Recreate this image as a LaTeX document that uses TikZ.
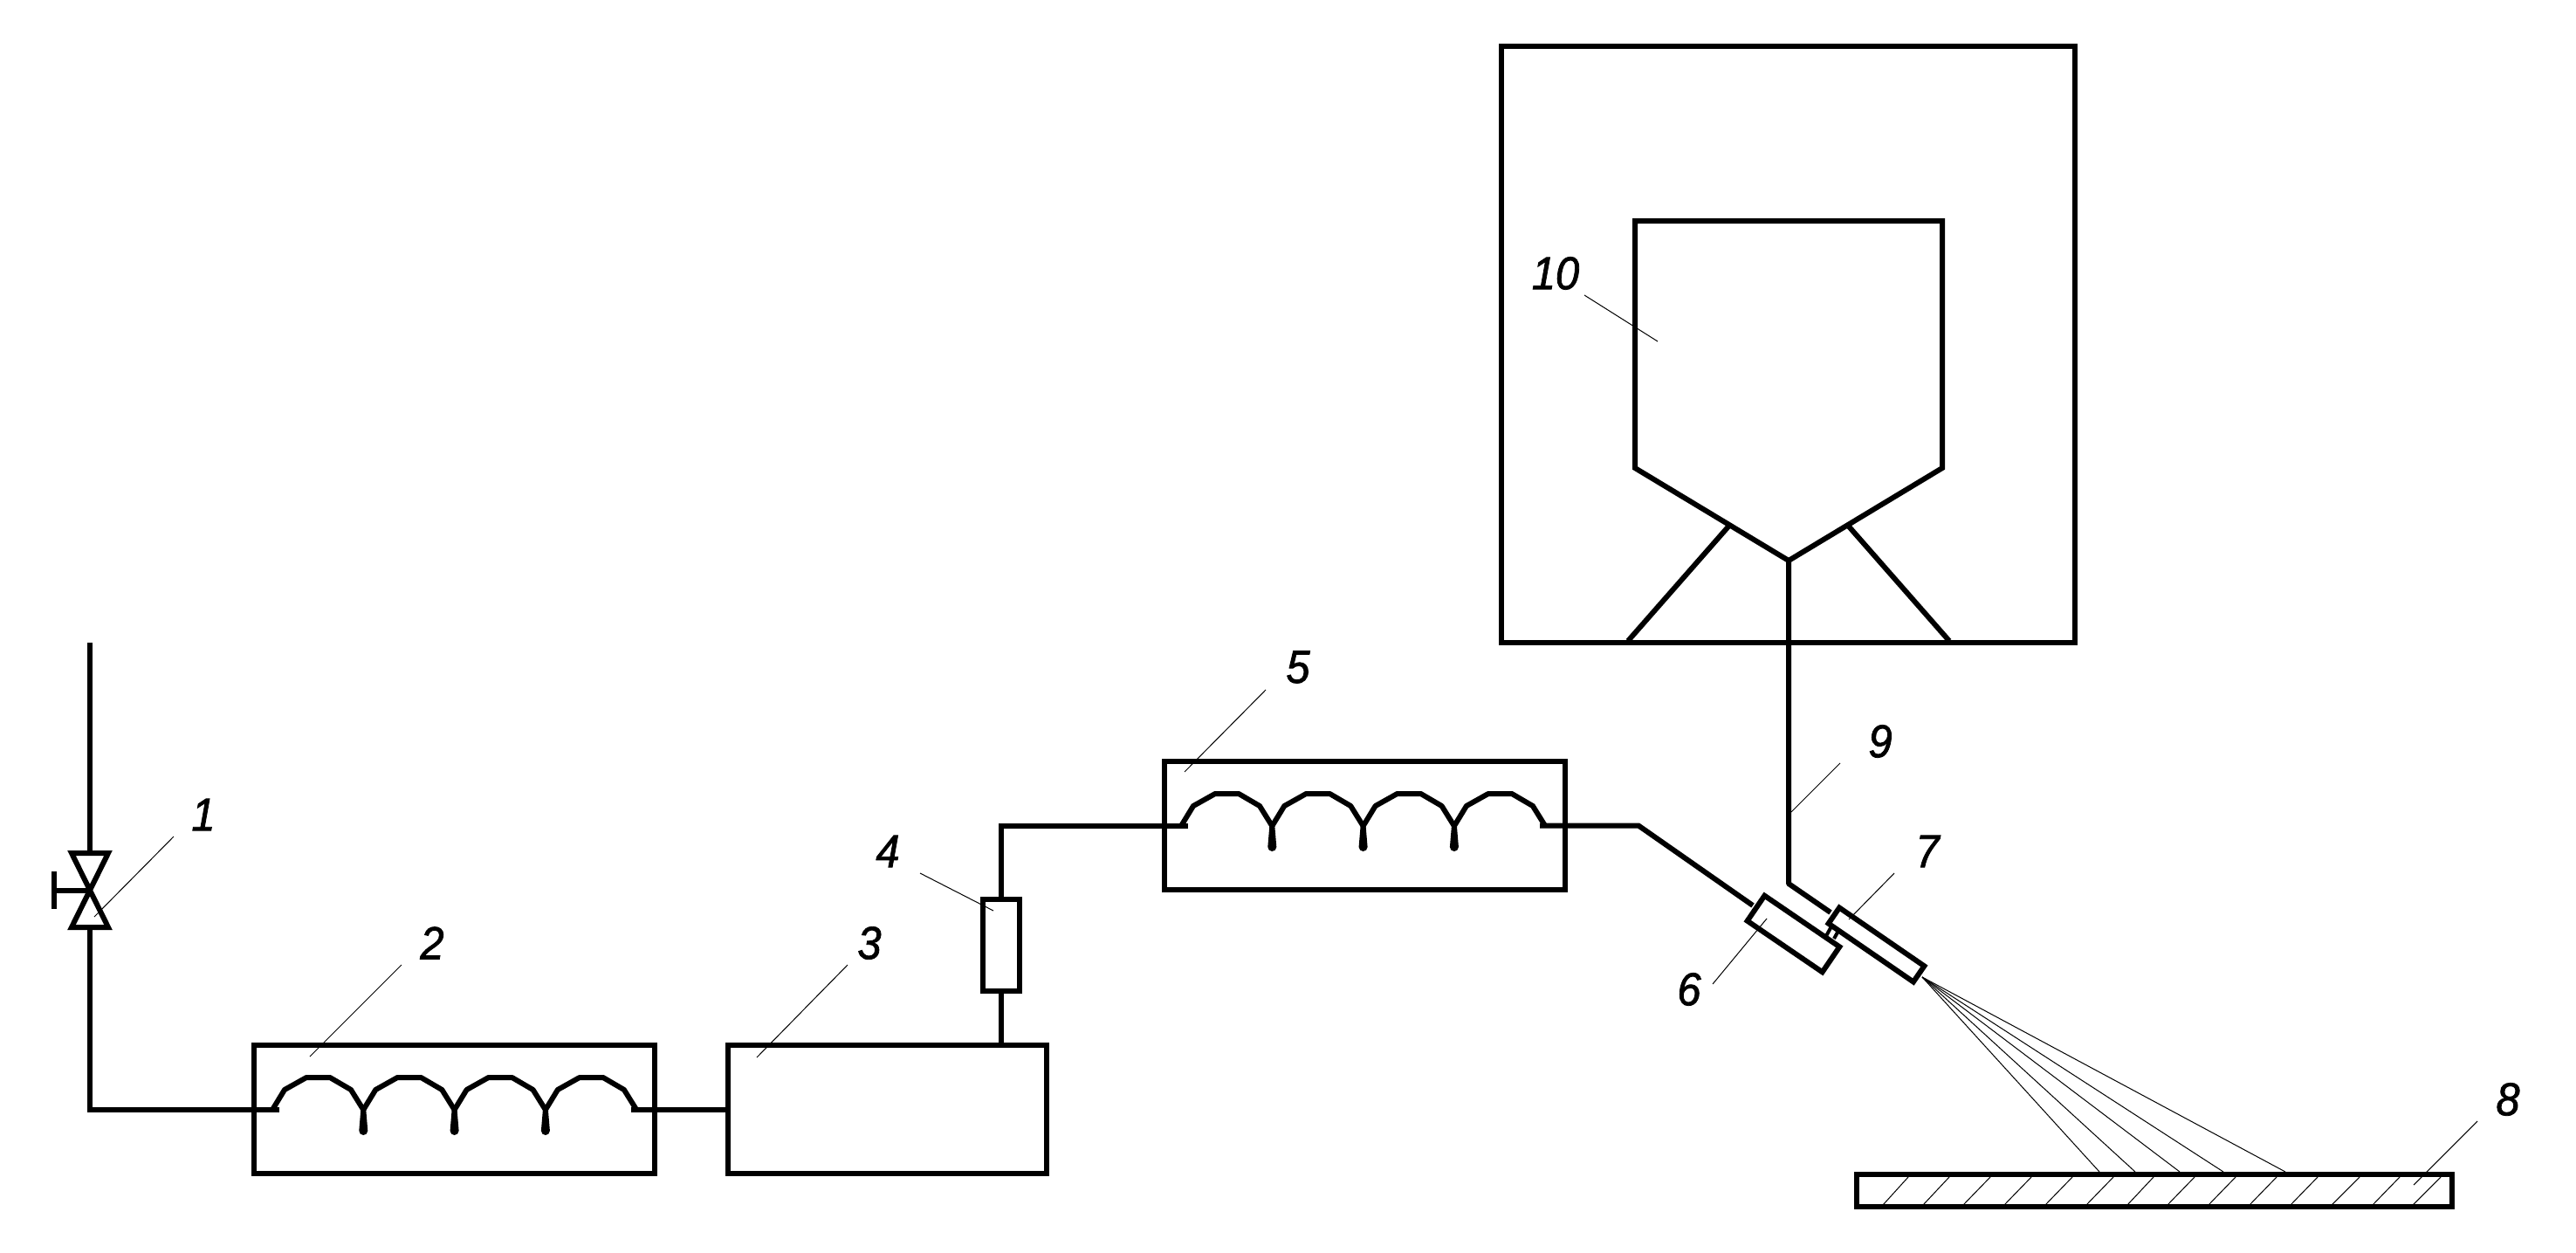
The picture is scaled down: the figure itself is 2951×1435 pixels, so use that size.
\documentclass[tikz,border=0pt]{standalone}
\usepackage{fontspec}
\setmainfont[ItalicFeatures={FakeBold=1.5,FakeStretch=0.92}]{Liberation Sans}
\tikzset{
  thick line/.style={line width=6pt,line cap=butt,line join=miter},
  blockbox/.style={draw,line width=6pt,rectangle,inner sep=0pt,outer sep=0pt},
  leader/.style={line width=1pt},
  num/.style={font=\fontsize{53}{53}\selectfont\itshape,inner sep=0pt},
  pics/coil/.style={code={
    \foreach \k in {0,1,2,3}{
      \draw[thick line,line join=round,xshift=\k*104.3pt]
        (0,0)--(14,-23)--(39,-37)--(66,-37)--(90,-23)--(104.3,0);
    }
    \foreach \k in {1,2,3}{
      \fill[xshift=\k*104.3pt] (-3,0)--(-5,24) arc[start angle=180,end angle=0,radius=5] --(3,0)--cycle;
    }
  }}
}
\begin{document}
\begin{tikzpicture}[x=1pt,y=-1pt]
\useasboundingbox (0,0) rectangle (2951,1435);
% blocks
\node[blockbox,minimum width=459pt,minimum height=147pt] (b2) at (520.5,1270.5) {};
\node[blockbox,minimum width=365pt,minimum height=147pt] (b3) at (1016.5,1270.5) {};
\node[blockbox,minimum width=42pt,minimum height=105pt] (b4) at (1146.5,1082.5) {};
\node[blockbox,minimum width=459pt,minimum height=147pt] (b5) at (1563.5,945.5) {};
\node[blockbox,rotate=-34.3,minimum width=104pt,minimum height=35pt] (b6) at (2054.5,1069.5) {};
\node[blockbox,rotate=-34.5,minimum width=118pt,minimum height=22pt] (b7) at (2149.5,1082) {};
\node[blockbox,minimum width=682pt,minimum height=37pt] (b8) at (2468,1363.5) {};
\node[blockbox,minimum width=657pt,minimum height=683pt] (chamber) at (2048.5,394.5) {};
% valve
\coordinate (vtop) at (103,977);
\coordinate (vbot) at (103,1062);
\coordinate (vc) at (103,1020);
\coordinate (pipetop) at (103,736);
\coordinate (pipecorner) at (103,1270.5);
\draw[thick line] (82,977)--(124,977)--(82,1062)--(124,1062)--cycle;
\draw[thick line] (vc)--(62,1020) (62,998)--(62,1041);
\draw[thick line] (pipetop)--(vtop);
% coils
\pic at (312,1271) {coil};
\pic at (1353,946) {coil};
\coordinate (c2a) at (320,1270.5);
\coordinate (c2b) at (723,1270.5);
\coordinate (c5a) at (1361,945.5);
\coordinate (c5b) at (1764,945.5);
\draw[thick line] (vbot)--(pipecorner)--(c2a);
\draw[thick line] (c2b)--(b3.west|-c2b);
\draw[thick line] (b3.north-|b4.south)--(b4.south);
\coordinate (r1) at (1146.5,945.5);
\draw[thick line] (b4.north)--(r1)--(c5a);
\coordinate (r2) at (1877,945.5);
\coordinate (r3) at (2008,1037);
\draw[thick line] (c5b)--(r2)--(r3);
% bunker
\coordinate (h1) at (1873,536);
\coordinate (h2) at (2049,642);
\coordinate (h3) at (2225,536);
\draw[thick line,line join=miter] (h1)--(1873,253)--(2225,253)--(h3)--(h2)--cycle;
\coordinate (l1) at (1865,734);
\coordinate (l2) at (2233,734);
\draw[thick line] (l1)--(1980,603) (l2)--(2118,603);
\coordinate (d1) at (2049,1012);
\coordinate (d2) at (2097,1045);
\draw[thick line,line join=bevel] (h2)--(d1)--(d2);
% links between 6 and 7
\draw[line width=4pt] (2092.5,1071)--(2098,1061) (2101,1075)--(2106,1066);
% substrate hatching
\foreach \a/\b in {2157/2186,2203/2233,2249/2280,2296/2327,2343/2374,2390/2421,2437/2467,2483/2514,2530/2561,2577/2608,2624/2655,2671/2703,2718/2749,2764/2796}{
  \draw[leader] (\a,1380)--(\b,1348);
}
% spray
\coordinate (sp) at (2202,1119);
\foreach \x in {2405,2446,2497,2547,2618}{
  \draw[leader] (sp)--(\x,1342);
}
% leaders
\node[num] (n1) at (233,933) {1};
\node[num] (n2) at (495,1080) {2};
\node[num] (n3) at (996,1080) {3};
\node[num] (n4) at (1017,975) {4};
\node[num] (n5) at (1487,764) {5};
\node[num] (n6) at (1935,1133) {6};
\node[num] (n7) at (2208,975) {7};
\node[num] (n8) at (2873,1259) {8};
\node[num] (n9) at (2154,849) {9};
\node[num] (n10) at (1782,313) {10};
\coordinate (t1) at (108,1050);
\coordinate (t2) at (355,1210);
\coordinate (t3) at (867,1211);
\coordinate (t4) at (1138,1043);
\coordinate (t5) at (1357,884);
\coordinate (t6) at (2024,1052);
\coordinate (t7) at (2118,1053);
\coordinate (t8) at (2765,1357);
\coordinate (t9) at (2052,930);
\coordinate (t10) at (1899,391);
\draw[leader] (199,958)--(t1);
\draw[leader] (460,1105)--(t2);
\draw[leader] (971,1105)--(t3);
\draw[leader] (1054,1000)--(t4);
\draw[leader] (1450,790)--(t5);
\draw[leader] (1962,1127)--(t6);
\draw[leader] (2170,1000)--(t7);
\draw[leader] (2838,1284)--(t8);
\draw[leader] (2108,874)--(t9);
\draw[leader] (1815,338)--(t10);
\end{tikzpicture}
\end{document}
